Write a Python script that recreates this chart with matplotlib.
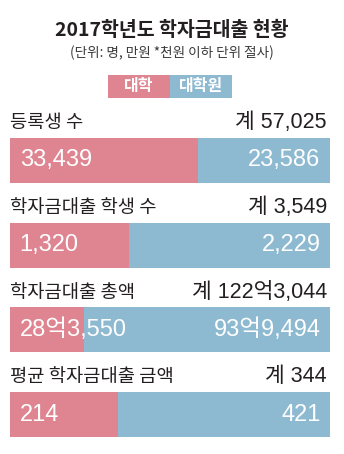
import matplotlib
matplotlib.use('Agg')
import matplotlib.pyplot as plt
from matplotlib import font_manager
from matplotlib.patches import Rectangle

# 데이터
categories = ['등록생 수', '학자금대출 학생 수', '학자금대출 총액', '평균 학자금대출 금액']
undergrad = [33439, 1320, 283550, 214]      # 대학
graduate = [23586, 2229, 939494, 421]       # 대학원
totals = [57025, 3549, 1223044, 344]        # 계
money = [False, False, True, False]         # 만원 -> 억 표기

red = '#de8591'
blue = '#8db9d1'
dark = '#231f20'

names = {f.name for f in font_manager.fontManager.ttflist}
narrow = 'Liberation Sans Narrow' if 'Liberation Sans Narrow' in names else 'Liberation Sans'
num_font = [narrow, 'Noto Sans CJK KR', 'DejaVu Sans']
kr_font = ['Noto Sans CJK KR', 'DejaVu Sans']
plt.rcParams['font.family'] = kr_font


def fmt(v, m):
    if m and v >= 10000:
        return f'{v // 10000}억{v % 10000:,}'
    return f'{v:,}'


fig = plt.figure(figsize=(3.44, 4.54), dpi=100)
W, H = 344, 454

# 제목
fig.text(0.5, 1 - 30 / H, '2017학년도 학자금대출 현황', ha='center', va='center',
         fontsize=14, fontweight='bold', color=dark)
fig.text(0.5, 1 - 53 / H, '(단위: 명, 만원 *천원 이하 단위 절사)', ha='center', va='center',
         fontsize=9.8, color='#3a3a3a')

# 범례
for x0, c, lab in [(108, red, '대학'), (170, blue, '대학원')]:
    fig.patches.append(Rectangle((x0 / W, 1 - 98 / H), 62 / W, 23 / H,
                                 transform=fig.transFigure, color=c, lw=0))
    fig.text((x0 + 31) / W, 1 - 86.5 / H, lab, ha='center', va='center',
             fontsize=11.5, fontweight='bold', color='white')

# 막대
ax = fig.add_axes([10 / W, 0, 320 / W, 1 - 100 / H])
ypos = list(range(len(categories)))
frac_u = [u / (u + g) for u, g in zip(undergrad, graduate)]
frac_g = [g / (u + g) for u, g in zip(undergrad, graduate)]
ax.barh(ypos, frac_u, height=0.53, color=red)
ax.barh(ypos, frac_g, left=frac_u, height=0.53, color=blue)
ax.set_xlim(0, 1)
ax.set_ylim(3.465, -0.714)
ax.axis('off')

for i in ypos:
    ax.text(0, i - 0.445, categories[i], ha='left', va='center',
            fontsize=13.5, fontweight=500, color=dark, clip_on=False)
    ax.text(0.99, i - 0.445, '계 ' + fmt(totals[i], money[i]), ha='right', va='center',
            fontsize=15.5, color=dark, family=num_font, clip_on=False)
    ax.text(0.03, i, fmt(undergrad[i], money[i]), ha='left', va='center',
            fontsize=17, color='white', family=num_font)
    ax.text(0.97, i, fmt(graduate[i], money[i]), ha='right', va='center',
            fontsize=17, color='white', family=num_font)

fig.savefig('out.png', dpi=100)
